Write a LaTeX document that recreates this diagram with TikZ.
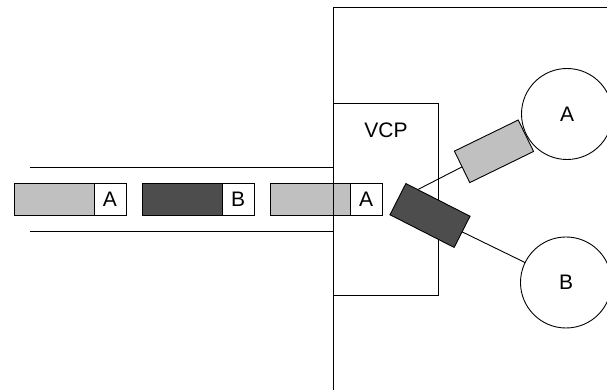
\documentclass[tikz,border=0pt]{standalone}
\usepackage{fontspec}
\setmainfont{Liberation Sans}
\definecolor{lightcar}{HTML}{C0C0C0}
\definecolor{darkcar}{HTML}{4D4D4D}
\begin{document}
\begin{tikzpicture}[x=1pt,y=1pt,
  every node/.style={inner sep=0pt, outer sep=0pt, font=\fontsize{21}{25}\selectfont},
  thin line/.style={line width=0.9pt},
  carbody/.style={draw, thin line, minimum width=80pt, minimum height=32pt},
  cartag/.style={draw, thin line, fill=white, minimum width=32pt, minimum height=32pt, anchor=west},
  tilted/.style={draw, thin line, minimum width=71pt, minimum height=35pt},
  station/.style={circle, draw, thin line, minimum size=91pt}]
\useasboundingbox (0,0) rectangle (607,390);

% channel walls
\coordinate (wallTopL) at (30,223);
\coordinate (wallTopR) at (333,223);
\coordinate (wallBotL) at (30,159);
\coordinate (wallBotR) at (333,159);
\draw[thin line] (wallTopL) -- (wallTopR);
\draw[thin line] (wallBotL) -- (wallBotR);

% cars queued in the channel
\node[carbody, fill=lightcar] (car1) at (54,191) {};
\node[cartag] (tag1) at (car1.east) {A};
\node[carbody, fill=darkcar] (car2) at (182,191) {};
\node[cartag] (tag2) at (car2.east) {B};
\node[carbody, fill=lightcar] (car3) at (310,191) {};
\node[cartag] (tag3) at (car3.east) {A};

% outer frame
\coordinate (frameBot) at (333,0);
\coordinate (frameCorner) at (333,383);
\coordinate (frameRight) at (607,383);
\draw[thin line] (frameBot) -- (frameCorner) -- (frameRight);

% VCP block
\node[draw, thin line, minimum width=105pt, minimum height=192pt] (vcp) at (385.5,191) {};
\node (vcplabel) at (386,260) {VCP};

% destinations
\node[station] (A) at (567,276) {A};
\node[station] (B) at (566,107.5) {B};

% car heading to A
\node[tilted, fill=lightcar, rotate=26] (toA) at (494,238.7) {};
\coordinate (hit) at (418.3,200.7);
\draw[thin line] (toA.west) -- (hit);

% car heading to B
\node[tilted, fill=darkcar, minimum width=72pt, rotate=-27] (toB) at (430,174.5) {};
\draw[thin line] (toB.east) -- (B);
\end{tikzpicture}
\end{document}
